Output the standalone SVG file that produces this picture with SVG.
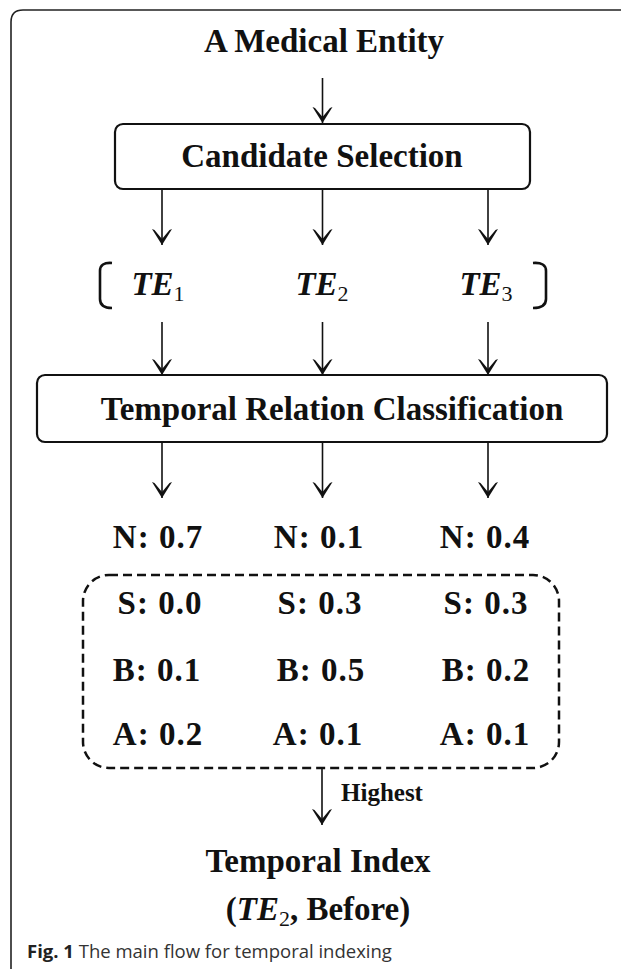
<svg xmlns="http://www.w3.org/2000/svg" width="621" height="969" viewBox="0 0 621 969">
<defs>
<style>
.t{font-family:"Liberation Serif","Times New Roman",serif;font-weight:bold;fill:#111;}
.h{font-size:33px;text-anchor:middle;}
.v{font-size:33px;text-anchor:middle;letter-spacing:1px;}
.it{font-style:italic;}
.sub{font-size:22px;font-weight:normal;font-style:normal;letter-spacing:0;}
.box{fill:none;stroke:#111;stroke-width:2.2;}
.dash{fill:none;stroke:#111;stroke-width:2.5;stroke-dasharray:9 5;}
.ln{stroke:#111;stroke-width:1.6;fill:none;marker-end:url(#ah);}
.br{fill:none;stroke:#111;stroke-width:2.6;}
.cap{font-family:"Open Sans","Noto Sans",sans-serif;font-size:18.5px;fill:#333;}
</style>
<marker id="ah" viewBox="-18 -11 20 22" refX="0" refY="0" markerWidth="20" markerHeight="22" markerUnits="userSpaceOnUse" orient="auto">
<path d="M0,0 L-16,-10 L-15,-7.5 L-6,0 L-15,7.5 L-16,10 Z" fill="#111"/>
</marker>
</defs>
<rect width="621" height="969" fill="#fff"/>
<path d="M11,969 L11,22 Q11,10 23,10 L621,10" fill="none" stroke="#222" stroke-width="1.6"/>

<g id="medical-entity">
<text class="t h" x="324" y="52">A Medical Entity</text>
</g>

<g id="candidate-selection">
<rect class="box" x="115" y="124" width="415" height="65" rx="8"/>
<text class="t h" x="322" y="167">Candidate Selection</text>
</g>

<g id="te-candidates">
<path class="br" d="M112,263 Q100,262 100,271 L100,299 Q100,308 112,308"/>
<path class="br" d="M533,263 Q546,262 546,271 L546,299 Q546,308 533,308"/>
<text class="t h it" x="158" y="295">TE<tspan class="sub" dy="6">1</tspan></text>
<text class="t h it" x="322" y="295">TE<tspan class="sub" dy="6">2</tspan></text>
<text class="t h it" x="486" y="295">TE<tspan class="sub" dy="6">3</tspan></text>
</g>

<g id="temporal-relation-classification">
<rect class="box" x="37" y="375" width="570" height="67" rx="8"/>
<text class="t h" x="332" y="420">Temporal Relation Classification</text>
</g>

<g id="scores-n">
<text class="t v" x="158" y="548">N: 0.7</text>
<text class="t v" x="319" y="548">N: 0.1</text>
<text class="t v" x="485" y="548">N: 0.4</text>
</g>

<g id="scores-sba">
<rect class="dash" x="83" y="575" width="476" height="193" rx="26"/>
<text class="t v" x="160" y="614">S: 0.0</text>
<text class="t v" x="320" y="614">S: 0.3</text>
<text class="t v" x="486" y="614">S: 0.3</text>
<text class="t v" x="157" y="681">B: 0.1</text>
<text class="t v" x="321" y="681">B: 0.5</text>
<text class="t v" x="486" y="681">B: 0.2</text>
<text class="t v" x="158" y="745">A: 0.2</text>
<text class="t v" x="318" y="745">A: 0.1</text>
<text class="t v" x="485" y="745">A: 0.1</text>
</g>

<g id="temporal-index">
<text class="t h" x="318" y="872">Temporal Index</text>
<text class="t h" x="318" y="920">(<tspan class="it">TE</tspan><tspan class="sub" dy="6">2</tspan><tspan dy="-6">, Before)</tspan></text>
</g>

<g id="connectors">
<line class="ln" x1="322.5" y1="78" x2="322.5" y2="123"/>
<line class="ln" x1="162" y1="189" x2="162" y2="245"/>
<line class="ln" x1="322.5" y1="189" x2="322.5" y2="245"/>
<line class="ln" x1="488" y1="189" x2="488" y2="245"/>
<line class="ln" x1="162" y1="322" x2="162" y2="375"/>
<line class="ln" x1="322.5" y1="322" x2="322.5" y2="375"/>
<line class="ln" x1="488" y1="322" x2="488" y2="375"/>
<line class="ln" x1="162" y1="442" x2="162" y2="498"/>
<line class="ln" x1="322.5" y1="442" x2="322.5" y2="498"/>
<line class="ln" x1="488" y1="442" x2="488" y2="498"/>
<line class="ln" x1="322" y1="768" x2="322" y2="825"/>
<text class="t" x="341" y="801" font-size="25">Highest</text>
</g>

<text class="cap" x="27" y="958"><tspan font-weight="bold" fill="#222">Fig. 1</tspan> The main flow for temporal indexing</text>
</svg>
